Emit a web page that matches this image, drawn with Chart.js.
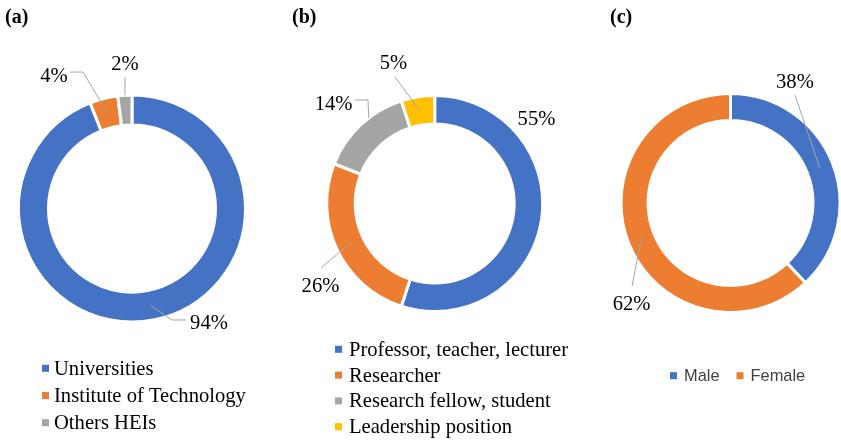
<!DOCTYPE html>
<html>
<head>
<meta charset="utf-8">
<script src="https://cdn.jsdelivr.net/npm/chart.js@4"></script>
<style>
  body { margin: 0; background: #fff; }
  #wrap { position: relative; width: 841px; height: 441px; overflow: hidden; }
  .panel { position: absolute; top: 0; height: 441px; }
</style>
</head>
<body>
<div id="wrap">
  <div class="panel" style="left:0;width:280px"><canvas id="chartA"></canvas></div>
  <div class="panel" style="left:280px;width:300px"><canvas id="chartB"></canvas></div>
  <div class="panel" style="left:580px;width:261px"><canvas id="chartC"></canvas></div>
</div>
<script>
// data
const panelTitles = ["(a)", "(b)", "(c)"];

const instLabels = ["Universities", "Institute of Technology", "Others HEIs"];
const instShare = [94, 4, 2];

const roleLabels = ["Professor, teacher, lecturer", "Researcher", "Research fellow, student", "Leadership position"];
const roleShare = [55, 26, 14, 5];

const genderLabels = ["Male", "Female"];
const genderShare = [38, 62];

// office palette
const BLUE = "#4472C4", ORANGE = "#ED7D31", GREY = "#A5A5A5", GOLD = "#FFC000";
const SERIF = '"Liberation Serif", "Times New Roman", serif';
const SANS = '"Liberation Sans", Arial, sans-serif';

// draws the title, the % labels with their leader lines and the legend
const panelDecor = {
  id: "panelDecor",
  afterDatasetsDraw(chart, args, opts) {
    const ctx = chart.ctx;
    const meta = chart.getDatasetMeta(0);
    const ds = chart.data.datasets[0];
    ctx.save();

    // title
    ctx.font = "bold 20px " + SERIF;
    ctx.fillStyle = "#000";
    ctx.textAlign = "left";
    ctx.textBaseline = "middle";
    ctx.fillText(opts.title, opts.titleX, 18);

    // data labels
    ctx.font = "20.6px " + SERIF;
    ctx.textAlign = "center";
    ctx.strokeStyle = "#A6A6A6";
    ctx.lineWidth = 1;
    meta.data.forEach((arc, i) => {
      const cfg = opts.labels[i];
      const p = arc.getProps(["x", "y", "startAngle", "endAngle", "innerRadius", "outerRadius"], true);
      const at = (af, rf) => {
        const a = p.startAngle + (p.endAngle - p.startAngle) * af;
        const r = p.innerRadius + (p.outerRadius - p.innerRadius) * rf;
        return [p.x + r * Math.cos(a), p.y + r * Math.sin(a)];
      };
      const mid = at(0.5, 0.5);
      const lx = mid[0] + cfg.dx, ly = mid[1] + cfg.dy;
      if (cfg.line) {
        ctx.beginPath();
        cfg.line.forEach(([px, py], j) => {
          if (j === 0) ctx.moveTo(lx + px, ly + py);
          else ctx.lineTo(lx + px, ly + py);
        });
        const end = at(cfg.af ?? 0.5, cfg.rf ?? 0.5);
        ctx.lineTo(end[0], end[1]);
        ctx.stroke();
      }
      ctx.fillStyle = "#000";
      // glyphs sit a little high with a middle baseline
      ctx.fillText(ds.data[i] + "%", lx, ly + 2);
    });

    // legend
    const L = opts.legend;
    ctx.font = L.font;
    ctx.textAlign = "left";
    let x = L.x;
    chart.data.labels.forEach((text, i) => {
      const y = L.horizontal ? L.y : L.y + i * L.step;
      ctx.fillStyle = ds.backgroundColor[i];
      ctx.fillRect(x, y - L.box / 2, L.box, L.box);
      ctx.fillStyle = L.color;
      ctx.fillText(text, x + L.gap, y + 1);
      if (L.horizontal) x += L.gap + ctx.measureText(text).width + L.spacing;
    });
    ctx.restore();
  }
};

// chart area centred on the ring; the ring size comes from radius
function padAround(w, h, cx, cy) {
  const k = 100;
  return { left: cx - k, right: w - cx - k, top: cy - k, bottom: h - cy - k };
}

function makeDoughnut(id, labels, values, colors, ring, decor) {
  return new Chart(document.getElementById(id), {
    type: "doughnut",
    data: {
      labels: labels,
      datasets: [{
        data: values,
        backgroundColor: colors,
        borderColor: "#fff",
        borderWidth: 3
      }]
    },
    options: {
      responsive: true,
      maintainAspectRatio: false,
      animation: false,
      radius: ring.radius,
      cutout: ring.cutout,
      layout: { padding: ring.pad },
      plugins: {
        legend: { display: false },
        tooltip: { enabled: false },
        panelDecor: decor
      }
    },
    plugins: [panelDecor]
  });
}

makeDoughnut("chartA", instLabels, instShare, [BLUE, ORANGE, GREY],
  { radius: 113.5, cutout: "73.6%", pad: padAround(280, 441, 132, 208.5) },
  {
    title: panelTitles[0], titleX: 5,
    labels: [
      { dx: 58.5, dy: 16.7, line: [[-23, -2], [-37, -2]] },
      { dx: -53.5, dy: -38, line: [[16, -3], [29, -3]] },
      { dx: -0.8, dy: -48, line: [[0, 15]], rf: 1 }
    ],
    legend: { x: 42, y: 368.3, step: 27.2, box: 7, gap: 12, font: "20.6px " + SERIF, color: "#000" }
  });

makeDoughnut("chartB", roleLabels, roleShare, [BLUE, ORANGE, GREY, GOLD],
  { radius: 108, cutout: "73.6%", pad: padAround(300, 441, 154.7, 203.5) },
  {
    title: panelTitles[1], titleX: 12,
    labels: [
      { dx: 9.2, dy: -100.2 },
      { dx: -29.4, dy: 41.6, line: [[0.5, -17]] },
      { dx: -37, dy: -32.2, line: [[21.5, -3], [34.5, -3]], af: 0.61, rf: 1 },
      { dx: -26.5, dy: -48.9, line: [[1.5, 15]] }
    ],
    legend: { x: 55, y: 349.3, step: 25.8, box: 7, gap: 14, font: "20.6px " + SERIF, color: "#000" }
  });

makeDoughnut("chartC", genderLabels, genderShare, [BLUE, ORANGE],
  { radius: 109.5, cutout: "75.3%", pad: padAround(261, 441, 150.5, 203) },
  {
    title: panelTitles[2], titleX: 30,
    labels: [
      { dx: -24.8, dy: -86.7, line: [[0, 14]] },
      { dx: -9.7, dy: 64.7, line: [[0.5, -17]] }
    ],
    legend: { horizontal: true, x: 90, y: 375.7, box: 7, gap: 14, spacing: 17, font: "16.4px " + SANS, color: "#404040" }
  });
</script>
</body>
</html>
